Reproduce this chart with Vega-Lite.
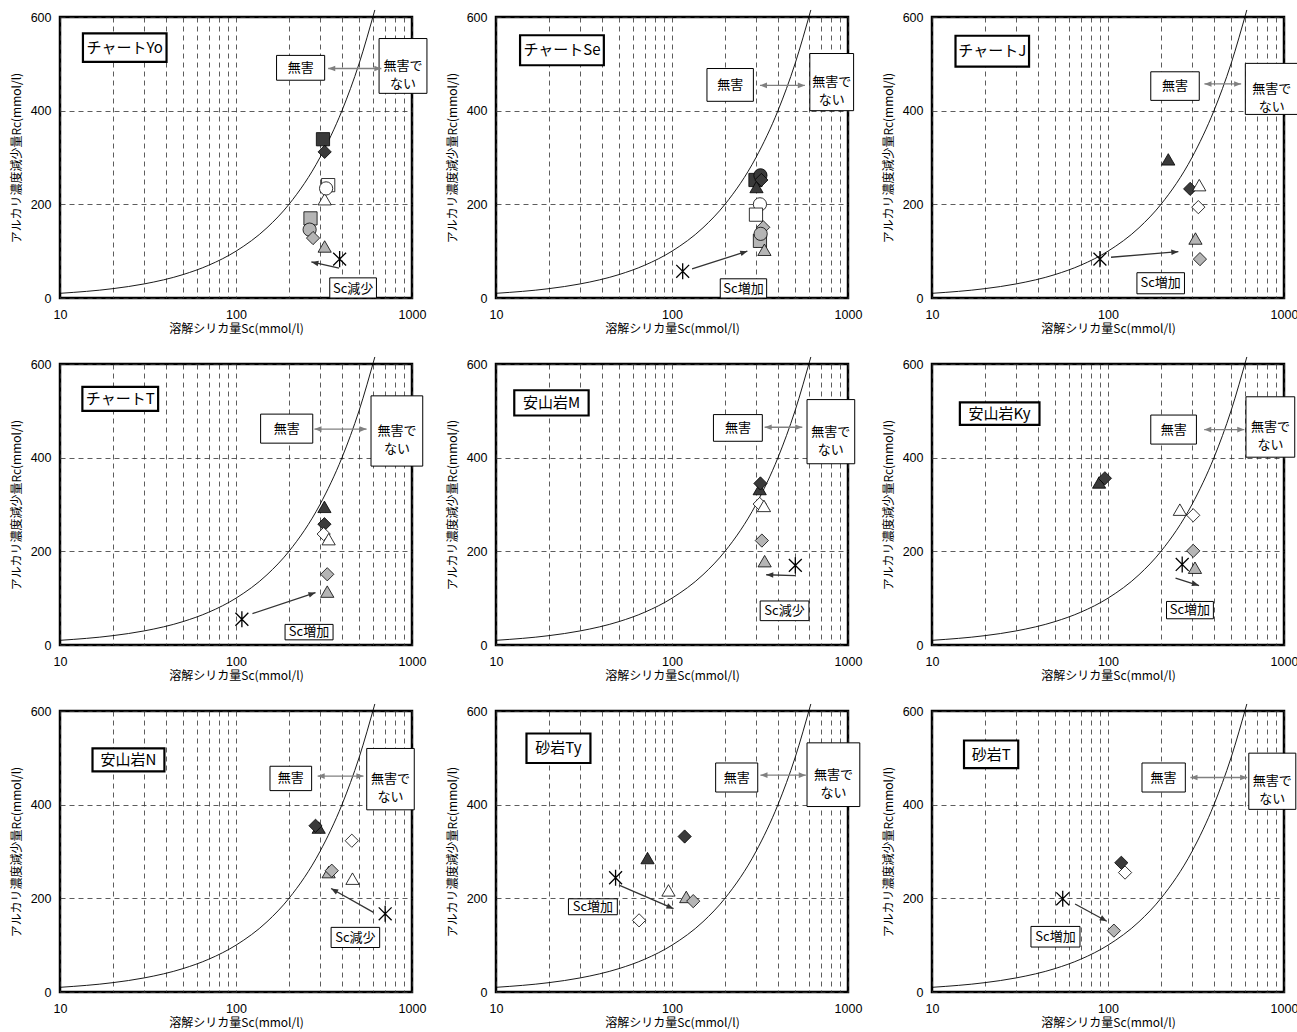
{
"$schema":"https://vega.github.io/schema/vega-lite/v6.json",
"padding":{"left":8,"top":5,"right":2,"bottom":2},
"background":"#ffffff",
"datasets":{"d":[
{"p":"Yo","k":"c","x":10,"y":10},{"p":"Yo","k":"c","x":20,"y":20},{"p":"Yo","k":"c","x":30,"y":30},{"p":"Yo","k":"c","x":50,"y":50},{"p":"Yo","k":"c","x":70,"y":70},{"p":"Yo","k":"c","x":100,"y":100},{"p":"Yo","k":"c","x":150,"y":150},{"p":"Yo","k":"c","x":200,"y":200},{"p":"Yo","k":"c","x":300,"y":300},{"p":"Yo","k":"c","x":400,"y":400},{"p":"Yo","k":"c","x":500,"y":500},{"p":"Yo","k":"c","x":615,"y":615},
{"p":"Se","k":"c","x":10,"y":10},{"p":"Se","k":"c","x":20,"y":20},{"p":"Se","k":"c","x":30,"y":30},{"p":"Se","k":"c","x":50,"y":50},{"p":"Se","k":"c","x":70,"y":70},{"p":"Se","k":"c","x":100,"y":100},{"p":"Se","k":"c","x":150,"y":150},{"p":"Se","k":"c","x":200,"y":200},{"p":"Se","k":"c","x":300,"y":300},{"p":"Se","k":"c","x":400,"y":400},{"p":"Se","k":"c","x":500,"y":500},{"p":"Se","k":"c","x":615,"y":615},
{"p":"J","k":"c","x":10,"y":10},{"p":"J","k":"c","x":20,"y":20},{"p":"J","k":"c","x":30,"y":30},{"p":"J","k":"c","x":50,"y":50},{"p":"J","k":"c","x":70,"y":70},{"p":"J","k":"c","x":100,"y":100},{"p":"J","k":"c","x":150,"y":150},{"p":"J","k":"c","x":200,"y":200},{"p":"J","k":"c","x":300,"y":300},{"p":"J","k":"c","x":400,"y":400},{"p":"J","k":"c","x":500,"y":500},{"p":"J","k":"c","x":615,"y":615},
{"p":"T","k":"c","x":10,"y":10},{"p":"T","k":"c","x":20,"y":20},{"p":"T","k":"c","x":30,"y":30},{"p":"T","k":"c","x":50,"y":50},{"p":"T","k":"c","x":70,"y":70},{"p":"T","k":"c","x":100,"y":100},{"p":"T","k":"c","x":150,"y":150},{"p":"T","k":"c","x":200,"y":200},{"p":"T","k":"c","x":300,"y":300},{"p":"T","k":"c","x":400,"y":400},{"p":"T","k":"c","x":500,"y":500},{"p":"T","k":"c","x":615,"y":615},
{"p":"M","k":"c","x":10,"y":10},{"p":"M","k":"c","x":20,"y":20},{"p":"M","k":"c","x":30,"y":30},{"p":"M","k":"c","x":50,"y":50},{"p":"M","k":"c","x":70,"y":70},{"p":"M","k":"c","x":100,"y":100},{"p":"M","k":"c","x":150,"y":150},{"p":"M","k":"c","x":200,"y":200},{"p":"M","k":"c","x":300,"y":300},{"p":"M","k":"c","x":400,"y":400},{"p":"M","k":"c","x":500,"y":500},{"p":"M","k":"c","x":615,"y":615},
{"p":"Ky","k":"c","x":10,"y":10},{"p":"Ky","k":"c","x":20,"y":20},{"p":"Ky","k":"c","x":30,"y":30},{"p":"Ky","k":"c","x":50,"y":50},{"p":"Ky","k":"c","x":70,"y":70},{"p":"Ky","k":"c","x":100,"y":100},{"p":"Ky","k":"c","x":150,"y":150},{"p":"Ky","k":"c","x":200,"y":200},{"p":"Ky","k":"c","x":300,"y":300},{"p":"Ky","k":"c","x":400,"y":400},{"p":"Ky","k":"c","x":500,"y":500},{"p":"Ky","k":"c","x":615,"y":615},
{"p":"N","k":"c","x":10,"y":10},{"p":"N","k":"c","x":20,"y":20},{"p":"N","k":"c","x":30,"y":30},{"p":"N","k":"c","x":50,"y":50},{"p":"N","k":"c","x":70,"y":70},{"p":"N","k":"c","x":100,"y":100},{"p":"N","k":"c","x":150,"y":150},{"p":"N","k":"c","x":200,"y":200},{"p":"N","k":"c","x":300,"y":300},{"p":"N","k":"c","x":400,"y":400},{"p":"N","k":"c","x":500,"y":500},{"p":"N","k":"c","x":615,"y":615},
{"p":"Ty","k":"c","x":10,"y":10},{"p":"Ty","k":"c","x":20,"y":20},{"p":"Ty","k":"c","x":30,"y":30},{"p":"Ty","k":"c","x":50,"y":50},{"p":"Ty","k":"c","x":70,"y":70},{"p":"Ty","k":"c","x":100,"y":100},{"p":"Ty","k":"c","x":150,"y":150},{"p":"Ty","k":"c","x":200,"y":200},{"p":"Ty","k":"c","x":300,"y":300},{"p":"Ty","k":"c","x":400,"y":400},{"p":"Ty","k":"c","x":500,"y":500},{"p":"Ty","k":"c","x":615,"y":615},
{"p":"ST","k":"c","x":10,"y":10},{"p":"ST","k":"c","x":20,"y":20},{"p":"ST","k":"c","x":30,"y":30},{"p":"ST","k":"c","x":50,"y":50},{"p":"ST","k":"c","x":70,"y":70},{"p":"ST","k":"c","x":100,"y":100},{"p":"ST","k":"c","x":150,"y":150},{"p":"ST","k":"c","x":200,"y":200},{"p":"ST","k":"c","x":300,"y":300},{"p":"ST","k":"c","x":400,"y":400},{"p":"ST","k":"c","x":500,"y":500},{"p":"ST","k":"c","x":615,"y":615},

{"p":"Yo","k":"tb","x":13.5,"x2":40.3,"y":504,"y2":565,"tx":23.3,"ty":534,"t":"チャートYo"},
{"p":"Yo","k":"bx","x":170,"x2":319,"y":465,"y2":518,"tx":233,"ty":491,"t":"無害"},
{"p":"Yo","k":"bx","x":650,"x2":1216,"y":437,"y2":554,"tx":889,"ty":495,"t":"無害で\nない"},
{"p":"Yo","k":"bx","x":341,"x2":628,"y":0,"y2":43,"tx":463,"ty":20,"t":"Sc減少"},
{"p":"Yo","k":"da","x":334,"x2":670,"y":490,"y2":490,"a":90,"a1":270},
{"p":"Yo","k":"ar","x":385,"x2":268,"y":64,"y2":77,"a":282},
{"p":"Yo","k":"ast","x":388,"y":83},

{"p":"Se","k":"tb","x":13.7,"x2":41,"y":497,"y2":561,"tx":23.7,"ty":529,"t":"チャートSe"},
{"p":"Se","k":"bx","x":158,"x2":290,"y":420,"y2":490,"tx":214,"ty":455,"t":"無害"},
{"p":"Se","k":"bx","x":607,"x2":1076,"y":400,"y2":522,"tx":808,"ty":461,"t":"無害で\nない"},
{"p":"Se","k":"bx","x":188,"x2":345,"y":0,"y2":41,"tx":255,"ty":20,"t":"Sc増加"},
{"p":"Se","k":"da","x":316,"x2":569,"y":454,"y2":454,"a":90,"a1":270},
{"p":"Se","k":"ar","x":130,"x2":268,"y":62,"y2":100,"a":72},
{"p":"Se","k":"ast","x":115,"y":57},

{"p":"J","k":"tb","x":13.6,"x2":35.6,"y":494,"y2":560,"tx":22,"ty":527,"t":"チャートJ"},
{"p":"J","k":"bx","x":175,"x2":330,"y":422,"y2":483,"tx":240,"ty":452,"t":"無害"},
{"p":"J","k":"bx","x":603,"x2":1203,"y":392,"y2":501,"tx":852,"ty":447,"t":"無害で\nない"},
{"p":"J","k":"bx","x":146,"x2":272,"y":9,"y2":54,"tx":199,"ty":31,"t":"Sc増加"},
{"p":"J","k":"da","x":353,"x2":571,"y":457,"y2":457,"a":90,"a1":270},
{"p":"J","k":"ar","x":104,"x2":251,"y":87,"y2":99,"a":85},
{"p":"J","k":"ast","x":90,"y":83},

{"p":"T","k":"tb","x":13.4,"x2":36.1,"y":500,"y2":551,"tx":22,"ty":525,"t":"チャートT"},
{"p":"T","k":"bx","x":138,"x2":273,"y":431,"y2":493,"tx":194,"ty":462,"t":"無害"},
{"p":"T","k":"bx","x":585,"x2":1151,"y":382,"y2":532,"tx":821,"ty":457,"t":"無害で\nない"},
{"p":"T","k":"bx","x":190,"x2":356,"y":11,"y2":44,"tx":260,"ty":27,"t":"Sc増加"},
{"p":"T","k":"da","x":279,"x2":552,"y":461,"y2":461,"a":90,"a1":270},
{"p":"T","k":"ar","x":124,"x2":283,"y":67,"y2":112,"a":71},
{"p":"T","k":"ast","x":108,"y":55},

{"p":"M","k":"tb","x":12.7,"x2":33.6,"y":490,"y2":544,"tx":20.7,"ty":517,"t":"安山岩M"},
{"p":"M","k":"bx","x":172,"x2":326,"y":435,"y2":492,"tx":237,"ty":463,"t":"無害"},
{"p":"M","k":"bx","x":585,"x2":1092,"y":387,"y2":524,"tx":799,"ty":455,"t":"無害で\nない"},
{"p":"M","k":"bx","x":317,"x2":600,"y":52,"y2":94,"tx":436,"ty":73,"t":"Sc減少"},
{"p":"M","k":"da","x":336,"x2":550,"y":465,"y2":465,"a":90,"a1":270},
{"p":"M","k":"ar","x":502,"x2":343,"y":148,"y2":150,"a":272},
{"p":"M","k":"ast","x":502,"y":170},

{"p":"Ky","k":"tb","x":14.4,"x2":40.8,"y":470,"y2":518,"tx":24.2,"ty":494,"t":"安山岩Ky"},
{"p":"Ky","k":"bx","x":175,"x2":318,"y":429,"y2":491,"tx":236,"ty":460,"t":"無害"},
{"p":"Ky","k":"bx","x":608,"x2":1151,"y":401,"y2":530,"tx":837,"ty":465,"t":"無害で\nない"},
{"p":"Ky","k":"bx","x":215,"x2":397,"y":56,"y2":93,"tx":292,"ty":74,"t":"Sc増加"},
{"p":"Ky","k":"da","x":352,"x2":595,"y":460,"y2":460,"a":90,"a1":270},
{"p":"Ky","k":"ar","x":242,"x2":329,"y":143,"y2":127,"a":108},
{"p":"Ky","k":"ast","x":264,"y":172},

{"p":"N","k":"tb","x":15.3,"x2":39.2,"y":471,"y2":520,"tx":24.5,"ty":495,"t":"安山岩N"},
{"p":"N","k":"bx","x":156,"x2":269,"y":430,"y2":482,"tx":205,"ty":456,"t":"無害"},
{"p":"N","k":"bx","x":553,"x2":1030,"y":389,"y2":520,"tx":755,"ty":454,"t":"無害で\nない"},
{"p":"N","k":"bx","x":347,"x2":655,"y":95,"y2":138,"tx":477,"ty":116,"t":"Sc減少"},
{"p":"N","k":"da","x":291,"x2":530,"y":461,"y2":461,"a":90,"a1":270},
{"p":"N","k":"ar","x":604,"x2":347,"y":170,"y2":221,"a":299},
{"p":"N","k":"ast","x":704,"y":167},

{"p":"Ty","k":"tb","x":14.9,"x2":34.4,"y":489,"y2":552,"tx":22.6,"ty":520,"t":"砂岩Ty"},
{"p":"Ty","k":"bx","x":177,"x2":307,"y":427,"y2":489,"tx":233,"ty":458,"t":"無害"},
{"p":"Ty","k":"bx","x":585,"x2":1167,"y":396,"y2":532,"tx":826,"ty":464,"t":"無害で\nない"},
{"p":"Ty","k":"bx","x":25.8,"x2":48.9,"y":165,"y2":199,"tx":35.5,"ty":182,"t":"Sc増加"},
{"p":"Ty","k":"da","x":318,"x2":576,"y":463,"y2":463,"a":90,"a1":270},
{"p":"Ty","k":"ar","x":50,"x2":102,"y":228,"y2":178,"a":113},
{"p":"Ty","k":"ast","x":47.8,"y":244},

{"p":"ST","k":"tb","x":15.2,"x2":30.9,"y":478,"y2":537,"tx":21.7,"ty":507,"t":"砂岩T"},
{"p":"ST","k":"bx","x":156,"x2":275,"y":427,"y2":489,"tx":207,"ty":458,"t":"無害"},
{"p":"ST","k":"bx","x":631,"x2":1167,"y":390,"y2":510,"tx":858,"ty":450,"t":"無害で\nない"},
{"p":"ST","k":"bx","x":36.5,"x2":69.3,"y":96,"y2":140,"tx":50.3,"ty":118,"t":"Sc増加"},
{"p":"ST","k":"da","x":294,"x2":618,"y":458,"y2":458,"a":90,"a1":270},
{"p":"ST","k":"ar","x":65,"x2":98.4,"y":188,"y2":151,"a":120},
{"p":"ST","k":"ast","x":55.3,"y":199},

{"p":"Yo","k":"pt","x":265,"y":170,"s":"sq","g":"g"},
{"p":"Yo","k":"pt","x":262,"y":146,"s":"cir","g":"g"},
{"p":"Yo","k":"pt","x":274,"y":128,"s":"dia","g":"g"},
{"p":"Yo","k":"pt","x":319,"y":110,"s":"tri","g":"g"},
{"p":"Yo","k":"pt","x":319,"y":211,"s":"tri","g":"w"},
{"p":"Yo","k":"pt","x":334,"y":241,"s":"sq","g":"w"},
{"p":"Yo","k":"pt","x":325,"y":234,"s":"cir","g":"w"},
{"p":"Yo","k":"pt","x":312,"y":339,"s":"sq","g":"d"},
{"p":"Yo","k":"pt","x":319,"y":312,"s":"dia","g":"d"},

{"p":"Se","k":"pt","x":298,"y":252,"s":"sq","g":"d"},
{"p":"Se","k":"pt","x":302,"y":237,"s":"tri","g":"d"},
{"p":"Se","k":"pt","x":318,"y":262,"s":"cir","g":"d"},
{"p":"Se","k":"pt","x":322,"y":252,"s":"dia","g":"d"},
{"p":"Se","k":"pt","x":316,"y":200,"s":"cir","g":"w"},
{"p":"Se","k":"pt","x":300,"y":178,"s":"sq","g":"w"},
{"p":"Se","k":"pt","x":330,"y":151,"s":"dia","g":"g"},
{"p":"Se","k":"pt","x":316,"y":122,"s":"sq","g":"g"},
{"p":"Se","k":"pt","x":319,"y":137,"s":"cir","g":"g"},
{"p":"Se","k":"pt","x":335,"y":103,"s":"tri","g":"g"},

{"p":"J","k":"pt","x":220,"y":296,"s":"tri","g":"d"},
{"p":"J","k":"pt","x":293,"y":233,"s":"dia","g":"d"},
{"p":"J","k":"pt","x":330,"y":241,"s":"tri","g":"w"},
{"p":"J","k":"pt","x":326,"y":194,"s":"dia","g":"w"},
{"p":"J","k":"pt","x":314,"y":127,"s":"tri","g":"g"},
{"p":"J","k":"pt","x":333,"y":83,"s":"dia","g":"g"},

{"p":"T","k":"pt","x":318,"y":295,"s":"tri","g":"d"},
{"p":"T","k":"pt","x":318,"y":258,"s":"dia","g":"d"},
{"p":"T","k":"pt","x":315,"y":237,"s":"dia","g":"w"},
{"p":"T","k":"pt","x":336,"y":226,"s":"tri","g":"w"},
{"p":"T","k":"pt","x":330,"y":151,"s":"dia","g":"g"},
{"p":"T","k":"pt","x":330,"y":114,"s":"tri","g":"g"},

{"p":"M","k":"pt","x":315,"y":333,"s":"tri","g":"d"},
{"p":"M","k":"pt","x":318,"y":345,"s":"dia","g":"d"},
{"p":"M","k":"pt","x":315,"y":301,"s":"dia","g":"w"},
{"p":"M","k":"pt","x":333,"y":297,"s":"tri","g":"w"},
{"p":"M","k":"pt","x":324,"y":223,"s":"dia","g":"g"},
{"p":"M","k":"pt","x":336,"y":179,"s":"tri","g":"g"},

{"p":"Ky","k":"pt","x":89,"y":347,"s":"tri","g":"d"},
{"p":"Ky","k":"pt","x":96,"y":356,"s":"dia","g":"d"},
{"p":"Ky","k":"pt","x":256,"y":289,"s":"tri","g":"w"},
{"p":"Ky","k":"pt","x":305,"y":277,"s":"dia","g":"w"},
{"p":"Ky","k":"pt","x":305,"y":201,"s":"dia","g":"g"},
{"p":"Ky","k":"pt","x":312,"y":165,"s":"tri","g":"g"},

{"p":"N","k":"pt","x":295,"y":351,"s":"tri","g":"d"},
{"p":"N","k":"pt","x":283,"y":355,"s":"dia","g":"d"},
{"p":"N","k":"pt","x":336,"y":256,"s":"tri","g":"g"},
{"p":"N","k":"pt","x":350,"y":259,"s":"dia","g":"g"},
{"p":"N","k":"pt","x":455,"y":323,"s":"dia","g":"w"},
{"p":"N","k":"pt","x":459,"y":242,"s":"tri","g":"w"},

{"p":"Ty","k":"pt","x":118,"y":332,"s":"dia","g":"d"},
{"p":"Ty","k":"pt","x":72.6,"y":286,"s":"tri","g":"d"},
{"p":"Ty","k":"pt","x":95.5,"y":217,"s":"tri","g":"w"},
{"p":"Ty","k":"pt","x":120.5,"y":203,"s":"tri","g":"g"},
{"p":"Ty","k":"pt","x":132,"y":194,"s":"dia","g":"g"},
{"p":"Ty","k":"pt","x":65,"y":153,"s":"dia","g":"w"},

{"p":"ST","k":"pt","x":119,"y":276,"s":"dia","g":"d"},
{"p":"ST","k":"pt","x":125,"y":255,"s":"dia","g":"w"},
{"p":"ST","k":"pt","x":108,"y":131,"s":"dia","g":"g"}
]},
"data":{"name":"d"},
"facet":{"field":"p","type":"nominal","sort":["Yo","Se","J","T","M","Ky","N","Ty","ST"],"header":{"title":null,"labels":false,"labelExpr":"''","labelFontSize":1,"labelPadding":0,"labelColor":"transparent"}},
"columns":3,
"spacing":{"row":66,"column":84},
"bounds":"flush",
"resolve":{"axis":{"x":"independent","y":"independent"}},
"spec":{
"width":352,"height":281,
"layer":[
{"transform":[{"filter":"datum.k==='c'"}],
 "mark":{"type":"line","color":"#000","strokeWidth":0.9,"interpolate":"monotone","clip":false},
 "encoding":{
  "x":{"field":"x","type":"quantitative","title":"溶解シリカ量Sc(mmol/l)","scale":{"type":"log","domain":[10,1000],"nice":false},
   "axis":{"values":[10,20,30,40,50,60,70,80,90,100,200,300,400,500,600,700,800,900,1000],"labelExpr":"(datum.value==10||datum.value==100||datum.value==1000)?format(datum.value,'d'):''","labelOverlap":false,"labelFlush":false,"labelPadding":10,"titlePadding":3}},
  "y":{"field":"y","type":"quantitative","title":"アルカリ濃度減少量Rc(mmol/l)","scale":{"domain":[0,600],"nice":false},
   "axis":{"values":[0,200,400,600],"labelPadding":9,"titlePadding":7}}
 }},
{"transform":[{"filter":"datum.k==='tb'||datum.k==='bx'"}],
 "mark":{"type":"rect","fill":"#ffffff","stroke":"#000000"},
 "encoding":{
  "x":{"field":"x","type":"quantitative","title":"溶解シリカ量Sc(mmol/l)"},"x2":{"field":"x2"},
  "y":{"field":"y","type":"quantitative","title":"アルカリ濃度減少量Rc(mmol/l)"},"y2":{"field":"y2"},
  "strokeWidth":{"condition":{"test":"datum.k==='tb'","value":2.2},"value":1}
 }},
{"transform":[{"filter":"datum.k==='tb'||datum.k==='bx'"}],
 "mark":{"type":"text","font":"Noto Sans CJK JP","lineBreak":"\n","lineHeight":18,"baseline":"middle","align":"center","color":"#000"},
 "encoding":{
  "x":{"field":"tx","type":"quantitative","title":"溶解シリカ量Sc(mmol/l)"},
  "y":{"field":"ty","type":"quantitative","title":"アルカリ濃度減少量Rc(mmol/l)"},
  "text":{"field":"t"},
  "size":{"condition":{"test":"datum.k==='tb'","value":15},"value":13}
 }},
{"transform":[{"filter":"datum.k==='ar'||datum.k==='da'"}],
 "mark":{"type":"rule","strokeWidth":1.3},
 "encoding":{
  "x":{"field":"x","type":"quantitative","title":"溶解シリカ量Sc(mmol/l)"},"x2":{"field":"x2"},
  "y":{"field":"y","type":"quantitative","title":"アルカリ濃度減少量Rc(mmol/l)"},"y2":{"field":"y2"},
  "color":{"condition":{"test":"datum.k==='da'","value":"#808080"},"value":"#333333"}
 }},
{"transform":[{"filter":"datum.k==='ar'||datum.k==='da'"}],
 "mark":{"type":"point","shape":"M0,0L0.4,1L-0.4,1Z","filled":true,"size":200,"opacity":1,"strokeWidth":0},
 "encoding":{
  "x":{"field":"x2","type":"quantitative","title":"溶解シリカ量Sc(mmol/l)"},
  "y":{"field":"y2","type":"quantitative","title":"アルカリ濃度減少量Rc(mmol/l)"},
  "angle":{"field":"a","type":"quantitative","scale":null},
  "color":{"condition":{"test":"datum.k==='da'","value":"#808080"},"value":"#333333"}
 }},
{"transform":[{"filter":"datum.k==='da'"}],
 "mark":{"type":"point","shape":"M0,0L0.4,1L-0.4,1Z","filled":true,"size":200,"opacity":1,"strokeWidth":0,"color":"#808080"},
 "encoding":{
  "x":{"field":"x","type":"quantitative","title":"溶解シリカ量Sc(mmol/l)"},
  "y":{"field":"y","type":"quantitative","title":"アルカリ濃度減少量Rc(mmol/l)"},
  "angle":{"field":"a1","type":"quantitative","scale":null}
 }},
{"transform":[{"filter":"datum.k==='pt'"}],
 "mark":{"type":"point","filled":true,"size":175,"opacity":1,"stroke":"#000000","strokeWidth":0.8},
 "encoding":{
  "x":{"field":"x","type":"quantitative","title":"溶解シリカ量Sc(mmol/l)"},
  "y":{"field":"y","type":"quantitative","title":"アルカリ濃度減少量Rc(mmol/l)"},
  "shape":{"field":"s","type":"nominal","scale":{"domain":["tri","dia","sq","cir"],"range":["triangle-up","diamond","square","circle"]},"legend":null},
  "fill":{"field":"g","type":"nominal","scale":{"domain":["d","g","w"],"range":["#3a3a3a","#b5b5b5","#ffffff"]},"legend":null}
 }},
{"transform":[{"filter":"datum.k==='ast'"}],
 "mark":{"type":"point","shape":"M-0.8,-0.8L0.8,0.8M-0.8,0.8L0.8,-0.8M0,-1L0,1","filled":false,"size":260,"opacity":1,"color":"#000000","strokeWidth":1.3},
 "encoding":{
  "x":{"field":"x","type":"quantitative","title":"溶解シリカ量Sc(mmol/l)"},
  "y":{"field":"y","type":"quantitative","title":"アルカリ濃度減少量Rc(mmol/l)"}
 }}
]},
"config":{
 "view":{"stroke":"#000000","strokeWidth":2.5},
 "header":{"labels":false,"title":null},
 "headerFacet":{"labels":false,"title":null},
 "axis":{"labelFont":"Liberation Sans","labelFontSize":12.5,"labelColor":"#000","titleFont":"Noto Sans CJK JP","titleFontSize":12,"titleFontWeight":"normal","titleColor":"#000","ticks":false,"domain":false,"grid":true,"gridColor":"#333333","gridDash":[5,4],"gridWidth":0.8,"gridOpacity":1},
 "text":{"font":"Noto Sans CJK JP"}
}
}
